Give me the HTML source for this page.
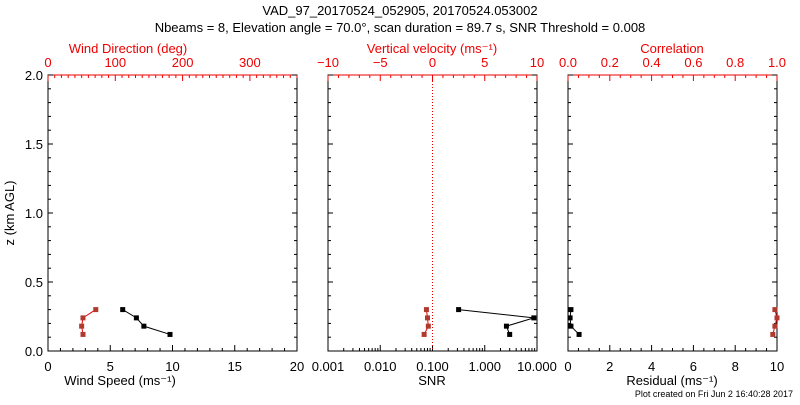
<!DOCTYPE html>
<html><head><meta charset="utf-8"><style>
body{margin:0;background:#fff}
svg text{font-family:"Liberation Sans","DejaVu Sans",sans-serif;font-size:13px}
</style></head><body>
<svg id="c" width="800" height="400" xmlns="http://www.w3.org/2000/svg">
<text x="400" y="15" text-anchor="middle">VAD_97_20170524_052905, 20170524.053002</text>
<text x="400" y="32" text-anchor="middle">Nbeams = 8, Elevation angle = 70.0°, scan duration = 89.7 s, SNR Threshold = 0.008</text>
<text transform="translate(14,213) rotate(-90)" text-anchor="middle">z (km AGL)</text>
<text x="793" y="397" text-anchor="end" style="font-size:9px">Plot created on Fri Jun  2 16:40:28 2017</text>
</svg>
<script>
const heights=[0.30,0.24,0.18,0.12];
const windSpeed=[6.0,7.1,7.7,9.8];
const windDir=[71,52,50,52];
const snr=[0.316,8.7,2.6,3.0];
const wVel=[-0.58,-0.48,-0.4,-0.8];
const residual=[0.14,0.1,0.14,0.53];
const correlation=[0.99,1.0,0.99,0.98];
const yTicks=[0,0.5,1.0,1.5,2.0];

const svg=document.getElementById('c');
const NS='http://www.w3.org/2000/svg';
const TOP=75,BOT=351;
const yS=v=>BOT-(v/2)*(BOT-TOP);
function el(t,a,txt){const e=document.createElementNS(NS,t);for(const k in a)e.setAttribute(k,a[k]);if(txt!==undefined)e.textContent=txt;svg.appendChild(e);return e;}
function line(x1,y1,x2,y2,c,name){const e=el('line',{x1,y1,x2,y2,stroke:c,'stroke-width':1});

return e;}
function text(x,y,s,c,name,anchor){const e=el('text',{x,y,fill:c,'text-anchor':anchor||'middle'},s);

return e;}
function series(xs,xf,col,name,sym){
 const pts=xs.map((v,i)=>[xf(v),yS(heights[i])]);
 const p=el('polyline',{points:pts.map(p=>p.join(',')).join(' '),fill:'none',stroke:col,'stroke-width':1});
 
 
 pts.forEach(([x,y])=>{const r=el('rect',{x:x-2.5,y:y-2.5,width:5,height:5,fill:sym});
  
  });
}
function panel(L,R,name){
 const r=el('rect',{x:L,y:TOP,width:R-L,height:BOT-TOP,fill:'none',stroke:'#000','stroke-width':1});
 
 
 line(L,TOP,R,TOP,'#e00',name+'-top-axis');
 for(let v=0;v<=2.0001;v+=0.1){const y=yS(v);const big=Math.abs(v*2-Math.round(v*2))<1e-6;const len=big?5:3;
  line(L,y,L+len,y,'#000',name+'-ytick');line(R,y,R-len,y,'#000',name+'-ytick');}
}
function linAxis(L,R,lo,hi,major,minor,fmt,col,isTop,name){
 const f=v=>L+(v-lo)/(hi-lo)*(R-L);const y=isTop?TOP:BOT;const d=isTop?1:-1;
 for(let v=lo;v<=hi+1e-9;v+=minor){if(f(v)>R+0.5)break;const isM=Math.abs(v/major-Math.round(v/major))<1e-6;line(f(v),y,f(v),y+d*(isM?6:3),col,name+'-tick');}
 for(let v=lo;v<=hi+1e-9;v+=major){if(f(v)>R+2)break;text(f(v),isTop?TOP-8:BOT+20,fmt(v),col,name+'-label');}
 return f;
}
// Panel 1
panel(48,297,'panel-wind');
yTicks.forEach(v=>text(43,yS(v)+5,v.toFixed(1),'#000','y-tick-label','end'));
const fWS=linAxis(48,297,0,20,5,1,v=>String(Math.round(v)),'#000',false,'wind-speed-axis');
const fWD=linAxis(48,297,0,370,100,10,v=>String(Math.round(v)),'#e00',true,'wind-dir-axis');
text(120,385,'Wind Speed (ms⁻¹)','#000','wind-speed-axis-title');
text(128,53,'Wind Direction (deg)','#e00','wind-dir-axis-title');
series(windDir,fWD,'#e00','wind-direction','#b03a2e');
series(windSpeed,fWS,'#000','wind-speed','#000');
// Panel 2
panel(328,537,'panel-snr');
const fW=linAxis(328,537,-10,10,5,1,v=>(v<0?'\u2212':'')+Math.abs(Math.round(v)),'#e00',true,'vvel-axis');
const fS=v=>328+(Math.log10(v)+3)/4*(537-328);
for(let e=-3;e<1;e++)for(let m=1;m<10;m++){const x=fS(m*Math.pow(10,e));line(x,BOT,x,BOT-(m==1?6:3),'#000','snr-tick');}
['0.001','0.010','0.100','1.000','10.000'].forEach((s,i)=>text(fS(Math.pow(10,i-3)),BOT+20,s,'#000','snr-label'));
text(432,385,'SNR','#000','snr-axis-title');
text(432,53,'Vertical velocity (ms⁻¹)','#e00','vvel-axis-title');
const z=el('line',{x1:fW(0),y1:TOP,x2:fW(0),y2:BOT,stroke:'#e00','stroke-dasharray':'1,2'});


series(wVel,fW,'#e00','vertical-velocity','#b03a2e');
series(snr,fS,'#000','snr','#000');
// Panel 3
panel(568,777,'panel-residual');
const fR=linAxis(568,777,0,10,2,0.5,v=>String(Math.round(v)),'#000',false,'residual-axis');
const fC=linAxis(568,777,0,1,0.2,0.05,v=>v.toFixed(1),'#e00',true,'correlation-axis');
text(672,385,'Residual (ms⁻¹)','#000','residual-axis-title');
text(672,53,'Correlation','#e00','correlation-axis-title');
series(correlation,fC,'#e00','correlation','#b03a2e');
series(residual,fR,'#000','residual','#000');
</script>
</body></html>
